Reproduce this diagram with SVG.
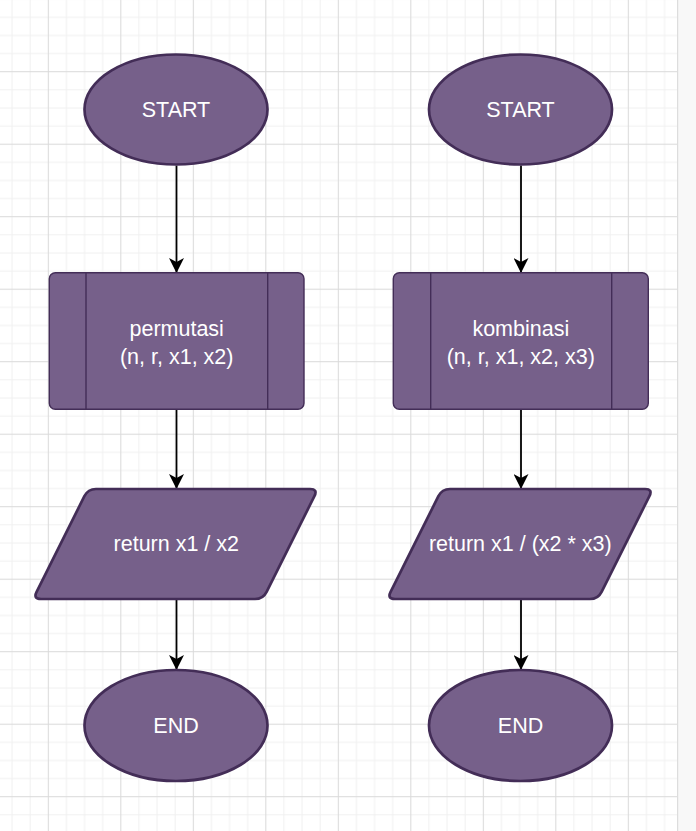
<svg xmlns="http://www.w3.org/2000/svg" width="696" height="831" viewBox="0 0 696 831">
  <style>
    .node { fill: #76608A; stroke: #432D57; }
    .thick { stroke-width: 2.7; }
    .thin { stroke-width: 1.4; }
    .lbl { fill: #FFFFFF; font-family: "Liberation Sans", Arial, sans-serif; font-size: 21.5px; text-anchor: middle; }
    .edge { stroke: #000000; stroke-width: 1.8; fill: none; }
  </style>
  <defs>
    <pattern id="grid" patternUnits="userSpaceOnUse" x="47.8" y="71.2" width="72.5" height="72.5">
      <rect x="0" y="0" width="72.5" height="72.5" fill="#FFFFFF"/>
      <rect x="18.125" y="0" width="1" height="72.5" fill="#F1F1F1"/>
      <rect x="36.25" y="0" width="1" height="72.5" fill="#F1F1F1"/>
      <rect x="54.375" y="0" width="1" height="72.5" fill="#F1F1F1"/>
      <rect x="0" y="18.125" width="72.5" height="1" fill="#F1F1F1"/>
      <rect x="0" y="36.25" width="72.5" height="1" fill="#F1F1F1"/>
      <rect x="0" y="54.375" width="72.5" height="1" fill="#F1F1F1"/>
      <rect x="0" y="0" width="1" height="72.5" fill="#DADADA"/>
      <rect x="0" y="0" width="72.5" height="1" fill="#DADADA"/>
    </pattern>
    <marker id="arrow" markerUnits="userSpaceOnUse" viewBox="0 0 15 15" refX="15" refY="7.5" markerWidth="15" markerHeight="15" orient="auto">
      <path d="M0,0 L15,7.5 L0,15 L4,7.5 Z" fill="#000000"/>
    </marker>
  </defs>

  <rect x="0" y="0" width="696" height="831" fill="#F8F8F8"/>
  <rect x="0" y="0" width="677" height="831" fill="url(#grid)"/>
  <rect x="677" y="0" width="1.2" height="831" fill="#DDDDDD"/>

  <g id="connectors">
    <line class="edge" x1="176.5" y1="165.5" x2="176.5" y2="273" marker-end="url(#arrow)"/>
    <line class="edge" x1="176.5" y1="409.5" x2="176.5" y2="489" marker-end="url(#arrow)"/>
    <line class="edge" x1="176.5" y1="599.5" x2="176.5" y2="670" marker-end="url(#arrow)"/>
    <line class="edge" x1="521" y1="165.5" x2="521" y2="273" marker-end="url(#arrow)"/>
    <line class="edge" x1="521" y1="409.5" x2="521" y2="489" marker-end="url(#arrow)"/>
    <line class="edge" x1="521" y1="599.5" x2="521" y2="670" marker-end="url(#arrow)"/>
  </g>

  <g id="start-left">
    <ellipse class="node thick" cx="176" cy="109.5" rx="91.5" ry="55"/>
    <text class="lbl" x="176" y="116.5">START</text>
  </g>
  <g id="start-right">
    <ellipse class="node thick" cx="520.5" cy="109.5" rx="91.5" ry="55"/>
    <text class="lbl" x="520.5" y="116.5">START</text>
  </g>

  <g id="permutasi">
    <rect class="node thin" x="49.3" y="272.7" width="254.7" height="136.6" rx="6" ry="6"/>
    <line class="node thin" x1="86" y1="272.7" x2="86" y2="409.3"/>
    <line class="node thin" x1="267.7" y1="272.7" x2="267.7" y2="409.3"/>
    <text class="lbl" x="176.7" y="336">permutasi</text>
    <text class="lbl" x="176.7" y="364">(n, r, x1, x2)</text>
  </g>
  <g id="kombinasi">
    <rect class="node thin" x="393.3" y="272.7" width="255" height="136.6" rx="6" ry="6"/>
    <line class="node thin" x1="430.7" y1="272.7" x2="430.7" y2="409.3"/>
    <line class="node thin" x1="611.7" y1="272.7" x2="611.7" y2="409.3"/>
    <text class="lbl" x="520.8" y="335.5">kombinasi</text>
    <text class="lbl" x="520.8" y="363.5">(n, r, x1, x2, x3)</text>
  </g>

  <g id="return-left">
    <path class="node thick" stroke-linejoin="round" d="M96,489 L310,489 Q318,489 314.4,496.2 L266.6,591.8 Q263,599 255,599 L41,599 Q33,599 36.6,591.8 L84.4,496.2 Q88,489 96,489 Z"/>
    <text class="lbl" x="176.3" y="551">return x1 / x2</text>
  </g>
  <g id="return-right">
    <path class="node thick" stroke-linejoin="round" d="M450,489 L645,489 Q653,489 649.4,496.2 L601.6,591.8 Q598,599 590,599 L395,599 Q387,599 390.6,591.8 L438.4,496.2 Q442,489 450,489 Z"/>
    <text class="lbl" x="520.3" y="551">return x1 / (x2 * x3)</text>
  </g>

  <g id="end-left">
    <ellipse class="node thick" cx="176" cy="725.5" rx="91.5" ry="55.5"/>
    <text class="lbl" x="176" y="732.5">END</text>
  </g>
  <g id="end-right">
    <ellipse class="node thick" cx="520.5" cy="725.5" rx="91.5" ry="55.5"/>
    <text class="lbl" x="520.5" y="732.5">END</text>
  </g>
</svg>
